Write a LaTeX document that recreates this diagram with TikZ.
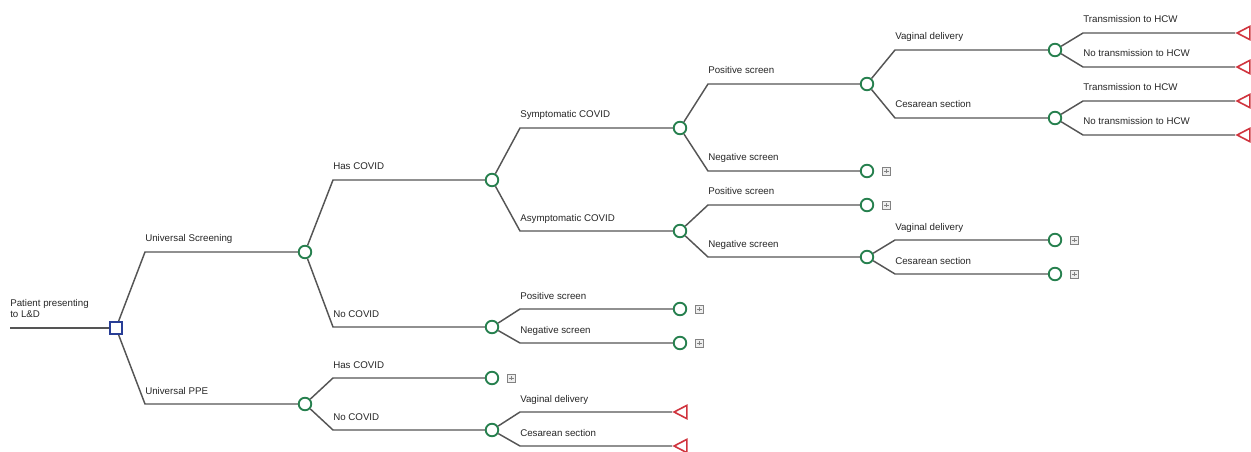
\documentclass[tikz,border=0pt]{standalone}
\usepackage{fontspec}
\setmainfont{Liberation Sans}
\usetikzlibrary{shapes,shapes.geometric,positioning,calc}

\definecolor{chancegreen}{RGB}{38,128,78}
\definecolor{decblue}{RGB}{40,62,150}
\definecolor{termred}{RGB}{208,52,62}
\definecolor{linegray}{RGB}{85,85,85}
\definecolor{boxgray}{RGB}{130,130,130}
\definecolor{boxfill}{RGB}{238,238,238}

\tikzset{
  branch/.style={draw=linegray, line width=1.1pt},
  chance/.style={circle, draw=chancegreen, line width=1.4pt, fill=white, minimum size=9.4pt, inner sep=0pt},
  decision/.style={rectangle, draw=decblue, line width=1.2pt, fill=white, minimum size=9.3pt, inner sep=0pt},
  terminal/.style={isosceles triangle, isosceles triangle stretches, shape border rotate=180, draw=termred, line width=1.2pt, fill=white, minimum width=10pt, minimum height=9.6pt, inner sep=0pt, anchor=apex},
  plusbox/.style={rectangle, draw=boxgray, fill=boxfill, line width=0.4pt, minimum size=6pt, inner sep=0pt,
    path picture={\draw[boxgray, line width=0.45pt] (path picture bounding box.center) +(-1.8pt,0) -- +(1.8pt,0) (path picture bounding box.center) +(0,-1.8pt) -- +(0,1.8pt);}},
  lbl/.style={anchor=base west, inner sep=0pt, font=\fontsize{7.3}{8.3}\selectfont, text=black!85}
}

\begin{document}
\begin{tikzpicture}[x=0.75pt,y=0.75pt,yscale=-1,xscale=1]
\useasboundingbox (0,0) rectangle (1251,452);

% Root
\coordinate (start) at (10,328);
\node[decision] (root) at (116,328) {};
\node[lbl, align=left, anchor=north west] (rootlbl) at (10,299) {Patient presenting\\to L\&D};
\draw[branch] (start) -- (root);

% Strategy level
\coordinate (e-us) at (145,252);
\coordinate (e-ppe) at (145,404);
\node[chance] (us) at (305,252) {};
\node[chance] (ppe) at (305,404) {};
\draw[branch] (root) -- (e-us) -- (us);
\draw[branch] (root) -- (e-ppe) -- (ppe);
\node[lbl] (l-us) at ($(e-us)+(0,-10)$) {Universal Screening};
\node[lbl] (l-ppe) at ($(e-ppe)+(0,-10)$) {Universal PPE};

% Universal Screening
\coordinate (e-hc) at (333,180);
\coordinate (e-nc) at (333,327);
\node[chance] (hc) at (492,180) {};
\node[chance] (nc) at (492,327) {};
\draw[branch] (us) -- (e-hc) -- (hc);
\draw[branch] (us) -- (e-nc) -- (nc);
\node[lbl] (l-hc) at ($(e-hc)+(0,-10)$) {Has COVID};
\node[lbl] (l-nc) at ($(e-nc)+(0,-10)$) {No COVID};

% Has COVID
\coordinate (e-sym) at (520,128);
\coordinate (e-asym) at (520,231);
\node[chance] (sym) at (680,128) {};
\node[chance] (asym) at (680,231) {};
\draw[branch] (hc) -- (e-sym) -- (sym);
\draw[branch] (hc) -- (e-asym) -- (asym);
\node[lbl] (l-sym) at ($(e-sym)+(0,-10)$) {Symptomatic COVID};
\node[lbl] (l-asym) at ($(e-asym)+(0,-10)$) {Asymptomatic COVID};

% Symptomatic COVID
\coordinate (e-sp) at (708,84);
\coordinate (e-sn) at (708,171);
\node[chance] (sp) at (867,84) {};
\node[chance] (sn) at (867,171) {};
\node[plusbox, right=6pt of sn] (x-sn) {};
\draw[branch] (sym) -- (e-sp) -- (sp);
\draw[branch] (sym) -- (e-sn) -- (sn);
\node[lbl] (l-sp) at ($(e-sp)+(0,-10)$) {Positive screen};
\node[lbl] (l-sn) at ($(e-sn)+(0,-10)$) {Negative screen};

% Positive screen, symptomatic
\coordinate (e-spv) at (895,50);
\coordinate (e-spc) at (895,118);
\node[chance] (spv) at (1055,50) {};
\node[chance] (spc) at (1055,118) {};
\draw[branch] (sp) -- (e-spv) -- (spv);
\draw[branch] (sp) -- (e-spc) -- (spc);
\node[lbl] (l-spv) at ($(e-spv)+(0,-10)$) {Vaginal delivery};
\node[lbl] (l-spc) at ($(e-spc)+(0,-10)$) {Cesarean section};

% Transmission outcomes
\coordinate (e-t1) at (1083,33);
\coordinate (e-t2) at (1083,67);
\coordinate (e-t3) at (1083,101);
\coordinate (e-t4) at (1083,135);
\node[terminal] (t1) at (1235,33) {};
\node[terminal] (t2) at (1235,67) {};
\node[terminal] (t3) at (1235,101) {};
\node[terminal] (t4) at (1235,135) {};
\draw[branch] (spv) -- (e-t1) -- (t1);
\draw[branch] (spv) -- (e-t2) -- (t2);
\draw[branch] (spc) -- (e-t3) -- (t3);
\draw[branch] (spc) -- (e-t4) -- (t4);
\node[lbl] (l-t1) at ($(e-t1)+(0,-10)$) {Transmission to HCW};
\node[lbl] (l-t2) at ($(e-t2)+(0,-10)$) {No transmission to HCW};
\node[lbl] (l-t3) at ($(e-t3)+(0,-10)$) {Transmission to HCW};
\node[lbl] (l-t4) at ($(e-t4)+(0,-10)$) {No transmission to HCW};

% Asymptomatic COVID
\coordinate (e-ap) at (708,205);
\coordinate (e-an) at (708,257);
\node[chance] (ap) at (867,205) {};
\node[chance] (an) at (867,257) {};
\node[plusbox, right=6pt of ap] (x-ap) {};
\draw[branch] (asym) -- (e-ap) -- (ap);
\draw[branch] (asym) -- (e-an) -- (an);
\node[lbl] (l-ap) at ($(e-ap)+(0,-10)$) {Positive screen};
\node[lbl] (l-an) at ($(e-an)+(0,-10)$) {Negative screen};

% Negative screen, asymptomatic
\coordinate (e-anv) at (895,240);
\coordinate (e-anc) at (895,274);
\node[chance] (anv) at (1055,240) {};
\node[chance] (anc) at (1055,274) {};
\node[plusbox, right=6pt of anv] (x-anv) {};
\node[plusbox, right=6pt of anc] (x-anc) {};
\draw[branch] (an) -- (e-anv) -- (anv);
\draw[branch] (an) -- (e-anc) -- (anc);
\node[lbl] (l-anv) at ($(e-anv)+(0,-10)$) {Vaginal delivery};
\node[lbl] (l-anc) at ($(e-anc)+(0,-10)$) {Cesarean section};

% No COVID, screening
\coordinate (e-ncp) at (520,309);
\coordinate (e-ncn) at (520,343);
\node[chance] (ncp) at (680,309) {};
\node[chance] (ncn) at (680,343) {};
\node[plusbox, right=6pt of ncp] (x-ncp) {};
\node[plusbox, right=6pt of ncn] (x-ncn) {};
\draw[branch] (nc) -- (e-ncp) -- (ncp);
\draw[branch] (nc) -- (e-ncn) -- (ncn);
\node[lbl] (l-ncp) at ($(e-ncp)+(0,-10)$) {Positive screen};
\node[lbl] (l-ncn) at ($(e-ncn)+(0,-10)$) {Negative screen};

% Universal PPE
\coordinate (e-phc) at (333,378);
\coordinate (e-pnc) at (333,430);
\node[chance] (phc) at (492,378) {};
\node[chance] (pnc) at (492,430) {};
\node[plusbox, right=6pt of phc] (x-phc) {};
\draw[branch] (ppe) -- (e-phc) -- (phc);
\draw[branch] (ppe) -- (e-pnc) -- (pnc);
\node[lbl] (l-phc) at ($(e-phc)+(0,-10)$) {Has COVID};
\node[lbl] (l-pnc) at ($(e-pnc)+(0,-10)$) {No COVID};

% No COVID, PPE
\coordinate (e-pv) at (520,412);
\coordinate (e-pc) at (520,446);
\node[terminal] (t5) at (672,412) {};
\node[terminal] (t6) at (672,446) {};
\draw[branch] (pnc) -- (e-pv) -- (t5);
\draw[branch] (pnc) -- (e-pc) -- (t6);
\node[lbl] (l-pv) at ($(e-pv)+(0,-10)$) {Vaginal delivery};
\node[lbl] (l-pc) at ($(e-pc)+(0,-10)$) {Cesarean section};

\end{tikzpicture}
\end{document}
